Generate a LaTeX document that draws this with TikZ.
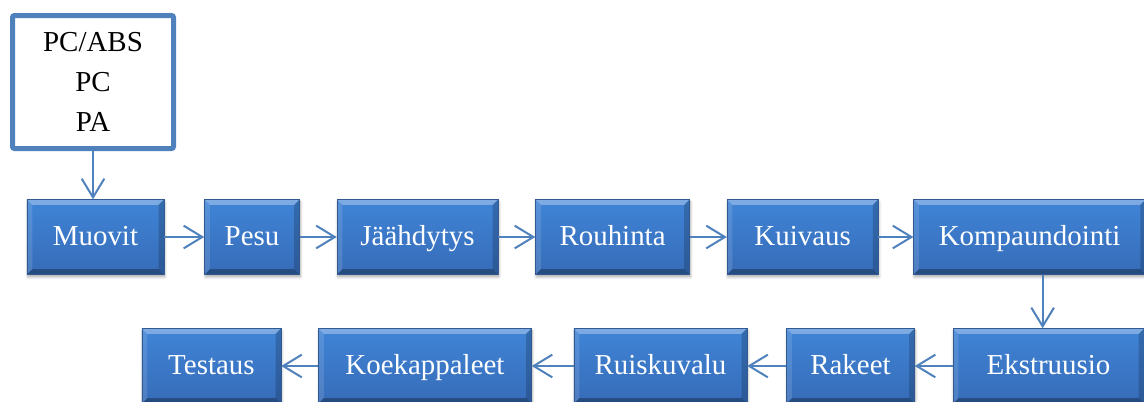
\documentclass[tikz,border=0pt]{standalone}
\usepackage{fontspec}
\setmainfont{Liberation Serif}
\usepackage{tikz}
\usetikzlibrary{positioning, shadows, shadows.blur, arrows.meta}
\definecolor{officeblue}{RGB}{79,129,189}
\definecolor{stagetop}{RGB}{64,132,214}
\definecolor{stagebottom}{RGB}{54,108,184}
\definecolor{stageedge}{RGB}{50,90,145}
\tikzstyle{bevel} = [path picture={
    \fill[white, opacity=0.32] (path picture bounding box.north west)
    -- (path picture bounding box.north east)
    -- ([shift={(-4pt,-4pt)}]path picture bounding box.north east)
    -- ([shift={(4pt,-4pt)}]path picture bounding box.north west) -- cycle;
    \fill[black, opacity=0.3] (path picture bounding box.south west)
    -- (path picture bounding box.south east)
    -- ([shift={(-4pt,4pt)}]path picture bounding box.south east)
    -- ([shift={(4pt,4pt)}]path picture bounding box.south west) -- cycle;
    \fill[black, opacity=0.18] (path picture bounding box.south east)
    -- (path picture bounding box.north east)
    -- ([shift={(-4pt,-4pt)}]path picture bounding box.north east)
    -- ([shift={(-4pt,4pt)}]path picture bounding box.south east) -- cycle;
    \fill[white, opacity=0.12] (path picture bounding box.south west)
    -- (path picture bounding box.north west)
    -- ([shift={(4pt,-4pt)}]path picture bounding box.north west)
    -- ([shift={(4pt,4pt)}]path picture bounding box.south west) -- cycle;
}]
\tikzstyle{stage} = [rectangle, bevel, minimum height=56.25pt, inner sep=0pt,
    text height=16pt, text depth=4pt, text centered, text=white,
    top color=stagetop, bottom color=stagebottom, draw=stageedge,
    line width=0.4pt, font=\fontsize{21.7}{26}\selectfont,
    blur shadow={shadow xshift=0.6pt, shadow yshift=-1.8pt,
    shadow blur steps=6, shadow blur radius=2pt, shadow opacity=35}]
\tikzstyle{material} = [rectangle, rounded corners=1.5pt, draw=officeblue,
    line width=3.75pt, minimum width=120.75pt, minimum height=99.75pt,
    align=center, font=\fontsize{21.7}{30}\selectfont]
\tikzstyle{arrow} = [draw=officeblue, line width=1.5pt,
    -{Straight Barb[length=14pt, width=17pt]}]

\begin{document}
\begin{tikzpicture}
            \useasboundingbox (0,0) rectangle (858pt,-300.75pt);
            % Materials
            \node[material] (plastics) at (69.75pt,-61.5pt) {PC/ABS\\PC\\PA};
            % Stages, first row
            \node[stage, minimum width=102.75pt] (muovit) at (71.6pt,-177.75pt) {Muovit};
            \node[stage, minimum width=71.25pt, right=30pt of muovit] (pesu) {Pesu};
            \node[stage, minimum width=120.75pt, right=27.75pt of pesu] (jaahd) {Jäähdytys};
            \node[stage, minimum width=115.5pt, right=27.75pt of jaahd] (rouh) {Rouhinta};
            \node[stage, minimum width=113.25pt, right=27.75pt of rouh] (kuiv) {Kuivaus};
            \node[stage, minimum width=174pt, right=26.25pt of kuiv] (kompaund) {Kompaundointi};
            % Stages, second row
            \node[stage, minimum width=143.25pt] (ekstr) at (786.4pt,-274.5pt) {Ekstruusio};
            \node[stage, minimum width=96pt, left=28.5pt of ekstr] (rakeet) {Rakeet};
            \node[stage, minimum width=129.75pt, left=29.25pt of rakeet] (ruisk) {Ruiskuvalu};
            \node[stage, minimum width=159.75pt, left=31.5pt of ruisk] (koek) {Koekappaleet};
            \node[stage, minimum width=104.25pt, left=27.75pt of koek] (test) {Testaus};
            % Arrows
            \draw[arrow] (plastics.south) -- (plastics.south |- muovit.north);
            \draw[arrow] (muovit) -- (pesu);
            \draw[arrow] (pesu) -- (jaahd);
            \draw[arrow] (jaahd) -- (rouh);
            \draw[arrow] (rouh) -- (kuiv);
            \draw[arrow] (kuiv) -- (kompaund);
            \draw[arrow] ([xshift=9.75pt]kompaund.south)
            -- ([xshift=9.75pt]kompaund.south |- ekstr.north);
            \draw[arrow] (ekstr) -- (rakeet);
            \draw[arrow] (rakeet) -- (ruisk);
            \draw[arrow] (ruisk) -- (koek);
            \draw[arrow] (koek) -- (test);

        \end{tikzpicture}
\end{document}
